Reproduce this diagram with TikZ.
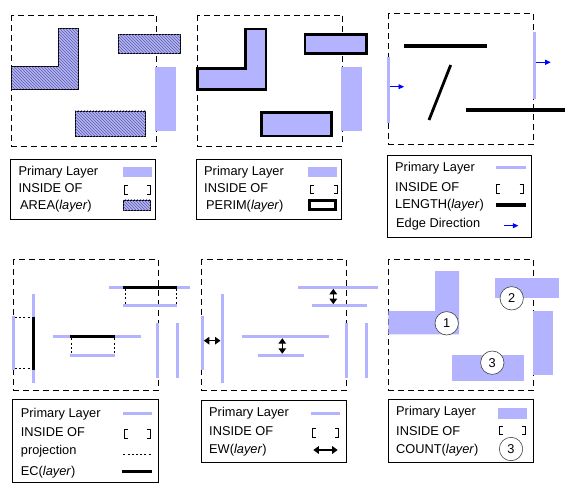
\documentclass[tikz,border=0pt]{standalone}
\usepackage{fontspec}
\setmainfont{Liberation Sans}
\usetikzlibrary{patterns,arrows.meta}
\definecolor{lav}{RGB}{179,179,255}
\definecolor{hatchc}{RGB}{95,95,150}
\begin{document}
\begin{tikzpicture}[x=1pt,y=-1pt,
  dbox/.style={draw,dash pattern=on 6pt off 4pt,line width=0.8pt},
  lbox/.style={draw,line width=0.8pt},
  lt/.style={anchor=base west,inner sep=0pt,font=\fontsize{12.8}{14}\selectfont},
  prim/.style={fill=lav},
  areafill/.style={fill=lav,postaction={pattern=north west lines,pattern color=hatchc},draw=black,line width=0.8pt},
  perim/.style={fill=lav,draw=black,line width=2.5pt},
  pl/.style={draw=lav,line width=3pt},
  blk/.style={draw=black,line width=3.5pt},
  proj/.style={draw=black,line width=0.9pt,dash pattern=on 2pt off 2.2pt},
  bluearr/.style={draw=blue,line width=0.8pt,-{Triangle[length=5.5pt,width=5pt]}},
  dar/.style={draw=black,line width=1.5pt,{Triangle[length=5.5pt,width=7.5pt]}-{Triangle[length=5.5pt,width=7.5pt]}},
  circ/.style={circle,draw=black!75,line width=0.6pt,fill=white,minimum size=23.4pt,inner sep=0pt,font=\fontsize{12.8}{14}\selectfont},
  brk/.pic={\draw[line width=0.9pt] (3.5,0) -- (0,0) -- (0,8.5) -- (3.5,8.5);
            \draw[line width=0.9pt] (23,0) -- (26.5,0) -- (26.5,8.5) -- (23,8.5);}
]
\useasboundingbox (0,0) rectangle (583,494);

% ---------------- Panel 1: AREA ----------------
\draw[dbox] (11.7,15) rectangle (156.7,146);
\draw[areafill] (11.7,66.7) -- (58.7,66.7) -- (58.7,28.3) -- (78.3,28.3) -- (78.3,89.3) -- (11.7,89.3) -- cycle;
\draw[areafill] (118.3,34.3) rectangle (180.3,53.3);
\draw[areafill] (75.3,111) rectangle (145.7,136.3);
\fill[prim] (155.3,67) rectangle (176,130.7);
\draw[lbox] (10,159) rectangle (155.7,219);
\node[lt] (a1) at (18.3,175.5) {Primary Layer};
\node[lt] (a2) at (18.3,192.5) {INSIDE OF};
\node[lt] (a3) at (20,209.8) {AREA(\textit{layer})};
\fill[prim] (123.3,167.3) rectangle (152,176.7);
\pic at (124,185.8) {brk};
\draw[areafill] (123.3,200) rectangle (150.7,210.7);

% ---------------- Panel 2: PERIM ----------------
\draw[dbox] (197.3,15) rectangle (342.7,146);
\draw[perim] (197.3,68.3) -- (245.7,68.3) -- (245.7,29) -- (266,29) -- (266,89.3) -- (197.3,89.3) -- cycle;
\draw[perim] (305,34.3) rectangle (366.7,53.3);
\draw[perim] (261.7,112.7) rectangle (331.7,136);
\fill[prim] (341,66.7) rectangle (362,130.7);
\draw[lbox] (196.7,159) rectangle (341.7,219.3);
\node[lt] (b1) at (204,175.5) {Primary Layer};
\node[lt] (b2) at (204,192.5) {INSIDE OF};
\node[lt] (b3) at (206,209.8) {PERIM(\textit{layer})};
\fill[prim] (308.3,166.7) rectangle (336.7,176.7);
\pic at (310.7,185.3) {brk};
\draw[draw=black,fill=white,line width=2.8pt] (309.5,200.5) rectangle (335.8,209.5);

% ---------------- Panel 3: LENGTH ----------------
\draw[dbox] (388.3,13.3) rectangle (533.3,144);
\draw[pl] (388.3,56.7) -- (388.3,122.7);
\draw[pl] (534,31.7) -- (534,99);
\draw[blk,line width=4pt] (404,45.7) -- (486.7,45.7);
\draw[blk,line width=2.8pt] (450.7,65) -- (429,120);
\draw[blk,line width=4pt] (466,110) -- (565,110);
\coordinate (l1s) at (389.8,86.7); \coordinate (l1e) at (404,86.7);
\coordinate (l2s) at (535.5,62.3); \coordinate (l2e) at (550.7,62.3);
\draw[bluearr] (l1s) -- (l1e);
\draw[bluearr] (l2s) -- (l2e);
\draw[lbox] (387.3,155) rectangle (531.7,237.3);
\node[lt] (c1) at (395,171.3) {Primary Layer};
\node[lt] (c2) at (395,192) {INSIDE OF};
\node[lt] (c3) at (395,208.7) {LENGTH(\textit{layer})};
\node[lt] (c4) at (396,227.3) {Edge Direction};
\draw[pl] (496,167.3) -- (526,167.3);
\pic at (496.7,184.8) {brk};
\draw[blk] (496,205) -- (526,205);
\coordinate (l3s) at (504,225.7); \coordinate (l3e) at (518.3,225.7);
\draw[bluearr] (l3s) -- (l3e);

% ---------------- Panel 4: EC ----------------
\draw[dbox] (13.3,259.3) rectangle (158.3,390);
% top right
\draw[pl] (109.3,287.3) -- (190,287.3);
\draw[blk] (123.3,287.3) -- (177.3,287.3);
\draw[pl] (123.3,305.7) -- (177.3,305.7);
\draw[proj] (125.7,289) -- (125.7,304.2);
\draw[proj] (176.4,289) -- (176.4,304.2);
% left
\draw[pl] (13.3,316) -- (13.3,370);
\draw[pl] (33.3,294) -- (33.3,383.3);
\draw[blk] (33.3,316.7) -- (33.3,370);
\draw[proj] (15,317.8) -- (31.5,317.8);
\draw[proj] (15,368.3) -- (31.5,368.3);
% middle
\draw[pl] (53.3,336.7) -- (140.7,336.7);
\draw[blk] (70,336.7) -- (115,336.7);
\draw[pl] (70,355.3) -- (115,355.3);
\draw[proj] (71.2,338.4) -- (71.2,353.8);
\draw[proj] (114.2,338.4) -- (114.2,353.8);
% right
\draw[pl] (157.7,322.7) -- (157.7,377.7);
\draw[pl] (177.3,322.7) -- (177.3,377.7);
\draw[lbox] (12.7,399.3) rectangle (158.3,482.3);
\node[lt] (d1) at (20.7,417) {Primary Layer};
\node[lt] (d2) at (20.7,436.3) {INSIDE OF};
\node[lt] (d3) at (20.7,454.5) {projection};
\node[lt] (d4) at (20.7,475.3) {EC(\textit{layer})};
\draw[pl] (123.3,413) -- (152,413);
\pic at (124,429.5) {brk};
\draw[proj] (123.3,454.3) -- (152,454.3);
\draw[blk] (122,471.7) -- (152.3,471.7);

% ---------------- Panel 5: EW ----------------
\draw[dbox] (201.7,259.3) rectangle (346.7,390);
\draw[pl] (298.3,287.3) -- (377.7,287.3);
\draw[pl] (312,305.7) -- (366.7,305.7);
\coordinate (e1s) at (333.3,288.8); \coordinate (e1e) at (333.3,304.2);
\draw[dar] (e1s) -- (e1e);
\draw[pl] (202.3,316) -- (202.3,370);
\draw[pl] (222,294) -- (222,383.3);
\coordinate (e2s) at (203.8,340.7); \coordinate (e2e) at (220.5,340.7);
\draw[dar] (e2s) -- (e2e);
\draw[pl] (242,336.7) -- (328.7,336.7);
\draw[pl] (258.3,355.3) -- (304,355.3);
\coordinate (e3s) at (282.3,338.2); \coordinate (e3e) at (282.3,353.8);
\draw[dar] (e3s) -- (e3e);
\draw[pl] (346,322.7) -- (346,377.7);
\draw[pl] (366,322.7) -- (366,377.7);
\draw[lbox] (201.7,400) rectangle (346,462.3);
\node[lt] (f1) at (209,416.3) {Primary Layer};
\node[lt] (f2) at (209,435.6) {INSIDE OF};
\node[lt] (f3) at (209,453.6) {EW(\textit{layer})};
\draw[pl] (311,413) -- (340,413);
\pic at (312,428.7) {brk};
\coordinate (e4s) at (313.3,450); \coordinate (e4e) at (337.7,450);
\draw[dar] (e4s) -- (e4e);

% ---------------- Panel 6: COUNT ----------------
\draw[dbox] (388.3,259.3) rectangle (533.3,390);
\fill[prim] (388.3,311) -- (435,311) -- (435,271) -- (459,271) -- (459,334.3) -- (388.3,334.3) -- cycle;
\fill[prim] (495,277.7) rectangle (559,297.7);
\fill[prim] (533.3,311) rectangle (553,375);
\fill[prim] (452,355) rectangle (524,380.7);
\node[circ] (n1) at (446.7,323.3) {1};
\node[circ] (n2) at (511.7,298.3) {2};
\node[circ] (n3) at (492.3,362.7) {3};
\draw[lbox] (388.3,399.3) rectangle (533.3,462.3);
\node[lt] (g1) at (396,415.3) {Primary Layer};
\node[lt] (g2) at (396,435) {INSIDE OF};
\node[lt] (g3) at (396,453.3) {COUNT(\textit{layer})};
\fill[prim] (498.3,408.3) rectangle (526.7,419);
\pic at (499,426.2) {brk};
\node[circ] (n4) at (511,449) {3};
\end{tikzpicture}
\end{document}
